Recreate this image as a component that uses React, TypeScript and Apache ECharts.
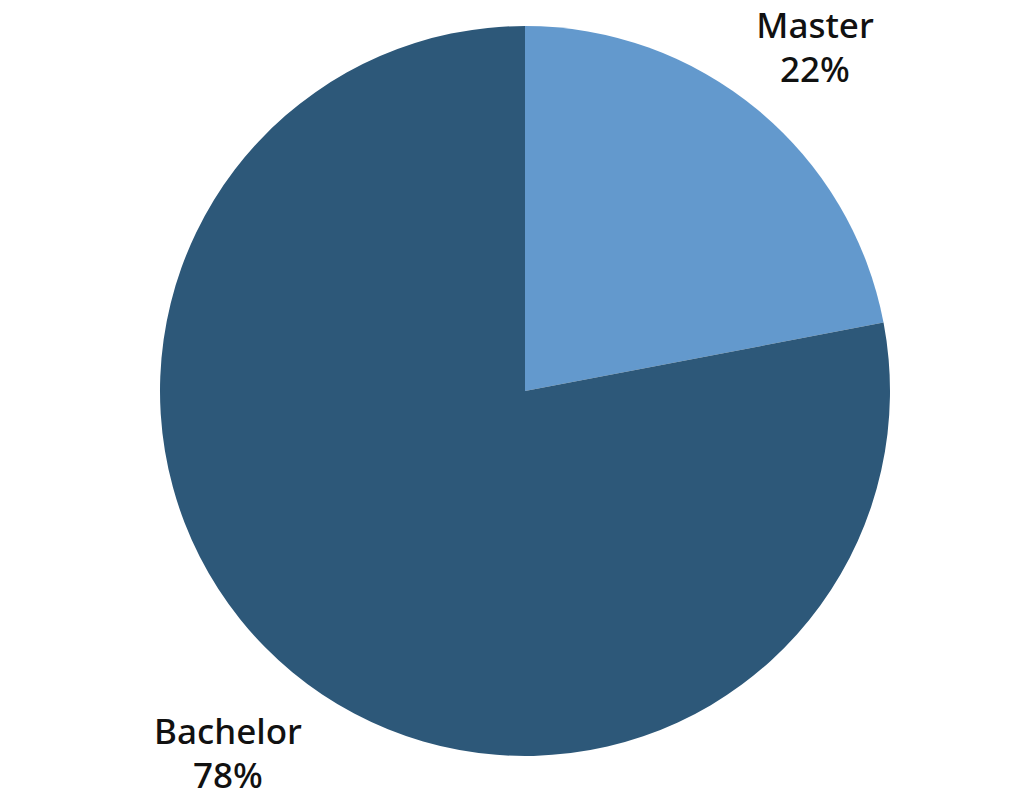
import React, { useEffect, useRef } from "react";
import * as echarts from "echarts";

const categories = ["Master", "Bachelor"];
const values = [22, 78];
const colors = ["#6399CD", "#2D5879"];

const labelPos: Record<string, [number, number]> = {
  Master: [815, 46],
  Bachelor: [228, 752],
};

export default function App() {
  const ref = useRef<HTMLDivElement>(null);
  useEffect(() => {
    if (!ref.current) return;
    const chart = echarts.init(ref.current, undefined, { renderer: "svg" });
    chart.setOption({
      animation: false,
      backgroundColor: "#ffffff",
      series: [
        {
          type: "pie",
          center: [525, 391],
          radius: [0, 365],
          startAngle: 90,
          clockwise: true,
          silent: true,
          data: categories.map((name, i) => ({
            name,
            value: values[i],
            itemStyle: { color: colors[i] },
          })),
          label: {
            show: true,
            position: "outside",
            formatter: (p: any) => `${p.name}\n${Math.round(p.percent)}%`,
            color: "#111111",
            fontFamily: "'Noto Sans', 'Open Sans', sans-serif",
            fontWeight: 500,
            fontSize: 35,
            lineHeight: 44,
            align: "center",
          },
          labelLine: { show: false },
          labelLayout: (params: any) => {
            const name = categories[params.dataIndex];
            const [x, y] = labelPos[name];
            return { x, y, align: "center", verticalAlign: "middle" };
          },
        },
      ],
    });
    return () => chart.dispose();
  }, []);
  return (
    <div
      ref={ref}
      style={{ position: "fixed", left: 0, top: 0, width: 1024, height: 801 }}
    />
  );
}
